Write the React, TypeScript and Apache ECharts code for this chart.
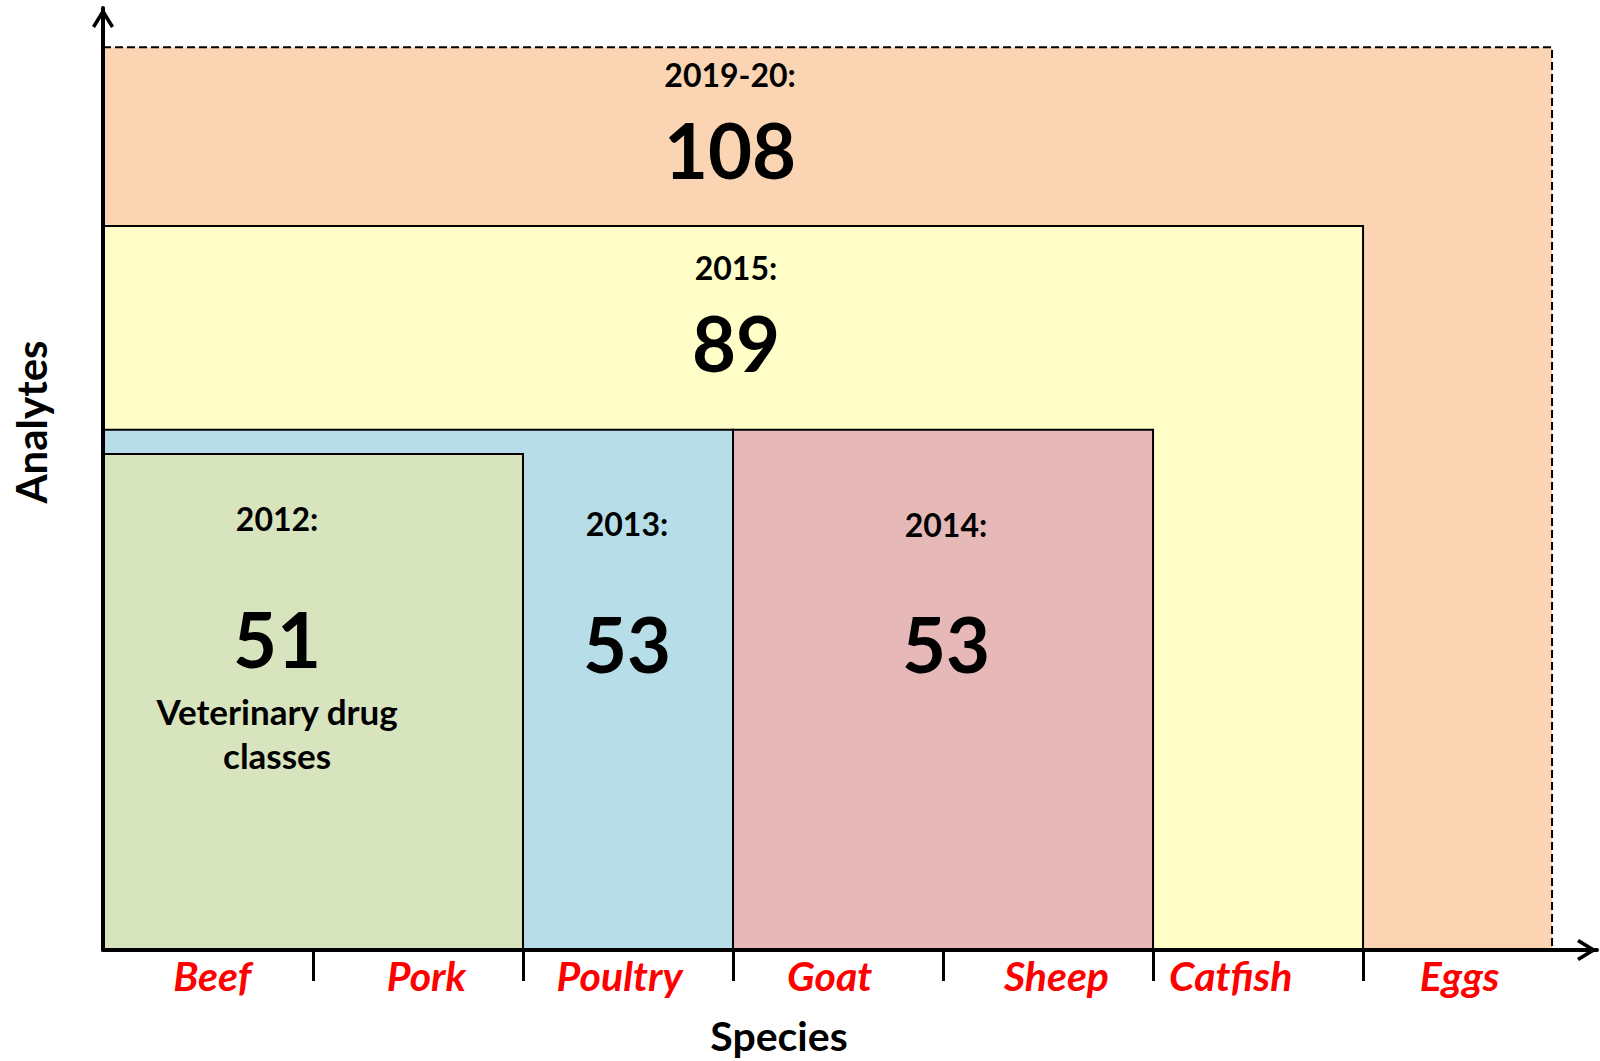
import React, { useEffect, useRef } from 'react';
import * as echarts from 'echarts';

// ---- data ----
const species = ['Beef', 'Pork', 'Poultry', 'Goat', 'Sheep', 'Catfish', 'Eggs'];
const speciesTickValues = [1, 2, 3, 4, 5, 6];
// where each species name sits along the axis (in species units)
const speciesLabelValues = [0.52, 1.54, 2.46, 3.46, 4.54, 5.37, 6.46];

const boxYears = ['2019-20', '2015', '2013', '2014', '2012'];
const boxAnalytes = [108, 89, 53, 53, 51];
const boxSpeciesStart = [0, 0, 0, 3, 0];
const boxSpeciesEnd = [6.9, 6, 3, 5, 2];
const boxHeights = [108.3, 86.85, 62.4, 62.4, 59.5];
const boxNotes = ['', '', '', '', 'Veterinary drug\nclasses'];

// ---- styles ----
const boxColors = ['#FBD4B4', '#FFFDC8', '#B7DDE8', '#E6B9B8', '#D7E4BD'];
const boxDashed = [true, false, false, false, false];
const labelAnchors = [
  { x: 2.986, year: 105.0, num: 96.0, note: 0 },
  { x: 3.014, year: 81.9, num: 72.9, note: 0 },
  { x: 2.495, year: 51.2, num: 36.8, note: 0 },
  { x: 4.014, year: 51.0, num: 36.8, note: 0 },
  { x: 0.829, year: 51.8, num: 37.4, note: 26.0 },
];
const FONT = 'Lato, "Open Sans", sans-serif';
const ARROW = 'path://M0,18 L11,0 L22,18 L19,20 L11,7 L3,20 Z';

export default function App() {
  const ref = useRef<HTMLDivElement>(null);
  useEffect(() => {
    document.body.style.margin = '0';
    const chart = echarts.init(ref.current!, null, { renderer: 'svg' });
    const data = boxYears.map((y, i) => [boxSpeciesStart[i], boxSpeciesEnd[i], boxHeights[i], boxAnalytes[i]]);
    chart.setOption({
      animation: false,
      backgroundColor: '#ffffff',
      grid: { left: 103, right: 3, top: 8, bottom: 111, containLabel: false, outerBoundsMode: 'none' },
      xAxis: {
        type: 'value',
        min: 0,
        max: 7.114,
        interval: 1,
        z: 10,
        splitLine: { show: false },
        axisLine: {
          show: true,
          onZero: false,
          symbol: ['none', ARROW],
          symbolSize: [22, 20],
          symbolOffset: [0, -10],
          lineStyle: { color: '#000', width: 4 },
        },
        axisTick: {
          show: true,
          customValues: speciesTickValues,
          length: 31,
          lineStyle: { color: '#000', width: 3 },
        },
        axisLabel: {
          show: true,
          customValues: speciesLabelValues,
          formatter: (v: number) => {
            const idx = speciesLabelValues.findIndex((s) => Math.abs(s - v) < 1e-6);
            return idx >= 0 ? species[idx] : '';
          },
          color: '#FF0000',
          fontFamily: FONT,
          fontWeight: 'bold',
          fontStyle: 'italic',
          fontSize: 41,
          margin: 5,
        },
      },
      yAxis: {
        type: 'value',
        min: 0,
        max: 113,
        z: 10,
        splitLine: { show: false },
        axisTick: { show: false },
        axisLabel: { show: false },
        axisLine: {
          show: true,
          onZero: false,
          symbol: ['none', ARROW],
          symbolSize: [22, 20],
          symbolOffset: [0, -10],
          lineStyle: { color: '#000', width: 4 },
        },
      },
      graphic: [
        {
          type: 'text',
          x: 779,
          y: 1035,
          style: { text: 'Species', fill: '#000', font: `bold 41px ${FONT}`, lineHeight: 40, align: 'center', verticalAlign: 'middle' },
        },
        {
          type: 'text',
          x: 31,
          y: 422,
          rotation: Math.PI / 2,
          style: { text: 'Analytes', fill: '#000', font: `bold 42px ${FONT}`, align: 'center', verticalAlign: 'middle' },
        },
      ],
      series: [
        {
          type: 'custom',
          z: 2,
          clip: false,
          data,
          renderItem: (params: any, api: any) => {
            const i = params.dataIndex;
            const x0 = api.value(0);
            const x1 = api.value(1);
            const h = api.value(2);
            const p0 = api.coord([x0, 0]);
            const p1 = api.coord([x1, h]);
            const a = labelAnchors[i];
            const py = api.coord([a.x, a.year]);
            const pn = api.coord([a.x, a.num]);
            const children: any[] = [
              {
                type: 'rect',
                shape: { x: p0[0], y: p1[1], width: p1[0] - p0[0], height: p0[1] - p1[1] },
                style: {
                  fill: boxColors[i],
                  stroke: '#000',
                  lineWidth: 2,
                  lineDash: boxDashed[i] ? [8, 4] : null,
                },
              },
              {
                type: 'text',
                x: py[0],
                y: py[1],
                style: {
                  text: boxYears[i] + ':',
                  fill: '#000',
                  font: `bold 32px ${FONT}`,
                  align: 'center',
                  verticalAlign: 'middle',
                },
              },
              {
                type: 'text',
                x: pn[0],
                y: pn[1],
                style: {
                  text: String(api.value(3)),
                  fill: '#000',
                  font: `bold 76px ${FONT}`,
                  align: 'center',
                  verticalAlign: 'middle',
                },
              },
            ];
            if (boxNotes[i]) {
              const pt = api.coord([a.x, a.note]);
              children.push({
                type: 'text',
                x: pt[0],
                y: pt[1],
                style: {
                  text: boxNotes[i],
                  fill: '#000',
                  font: `bold 35px ${FONT}`,
                  lineHeight: 44,
                  align: 'center',
                  verticalAlign: 'middle',
                },
              });
            }
            return { type: 'group', children };
          },
        },
      ],
    });
    return () => chart.dispose();
  }, []);
  return <div ref={ref} style={{ width: 1600, height: 1061 }} />;
}
